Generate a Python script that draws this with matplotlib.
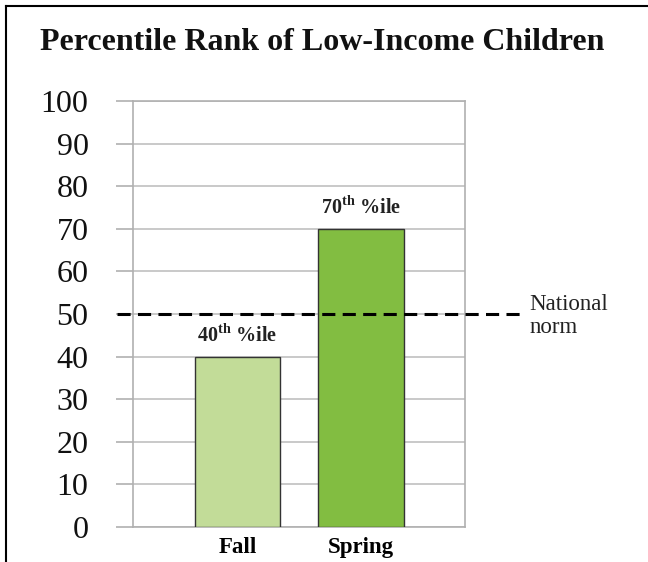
import matplotlib.pyplot as plt
from matplotlib.lines import Line2D

# dados
seasons = ['Fall', 'Spring']
percentiles = [40, 70]
bar_labels = ['40', '70']
bar_colors = ['#c2dc98', '#82bd41']
national_norm = 50
y_ticks = list(range(0, 101, 10))

plt.rcParams['font.family'] = ['Liberation Serif', 'DejaVu Serif']
plt.rcParams['mathtext.fontset'] = 'custom'
plt.rcParams['mathtext.rm'] = 'Liberation Serif'
plt.rcParams['mathtext.bf'] = 'Liberation Serif:bold'

W, H = 648, 562
fig = plt.figure(figsize=(W / 100, H / 100), dpi=100)
ax = fig.add_axes([133 / W, 1 - 527 / H, 332 / W, 426 / H])

x = list(range(len(seasons)))
ax.bar(x, percentiles, width=0.69, color=bar_colors, edgecolor='#333333',
       linewidth=1, zorder=3)

for xi, v, lab in zip(x, percentiles, bar_labels):
    ax.text(xi, v + 2.3, lab + r'$^{\mathbf{th}}$ %ile', ha='center', va='bottom',
            fontsize=14.5, fontweight='bold', color='#222222')

# linha da norma nacional
ax.axhline(national_norm, xmin=-0.048, xmax=1.185, color='black', lw=2.2,
           ls=(0, (4.3, 2.4)), clip_on=False, zorder=4)
ax.text(1.195, national_norm / 100 - 0.005, 'National\nnorm', transform=ax.transAxes,
        ha='left', va='center', fontsize=16.5, color='#222222', linespacing=1.15)

ax.set_xlim(-0.846, 1.842)
ax.set_ylim(0, 100)
ax.set_yticks(y_ticks)
ax.set_xticks(x)
ax.set_xticklabels(seasons, fontsize=16.5, fontweight='bold')
ax.tick_params(axis='y', length=12, color='#b0b0b0', width=1.2, pad=20,
               labelsize=23, labelcolor='#111111')
ax.tick_params(axis='x', length=0, pad=7)
ax.grid(axis='y', color='#c0c0c0', lw=1.2, zorder=0)
for s in ax.spines.values():
    s.set_color('#b0b0b0')
    s.set_linewidth(1.2)

fig.text(0.497, 1 - 43 / H, 'Percentile Rank of Low-Income Children',
         ha='center', va='center', fontsize=23, fontweight='bold', color='#111111')

# moldura (só esquerda e topo)
fig.add_artist(Line2D([6 / W, 6 / W], [0, 1 - 6 / H], color='black', lw=1.5))
fig.add_artist(Line2D([6 / W, 1], [1 - 6 / H, 1 - 6 / H], color='black', lw=1.5))

fig.savefig('out.png', dpi=100)
